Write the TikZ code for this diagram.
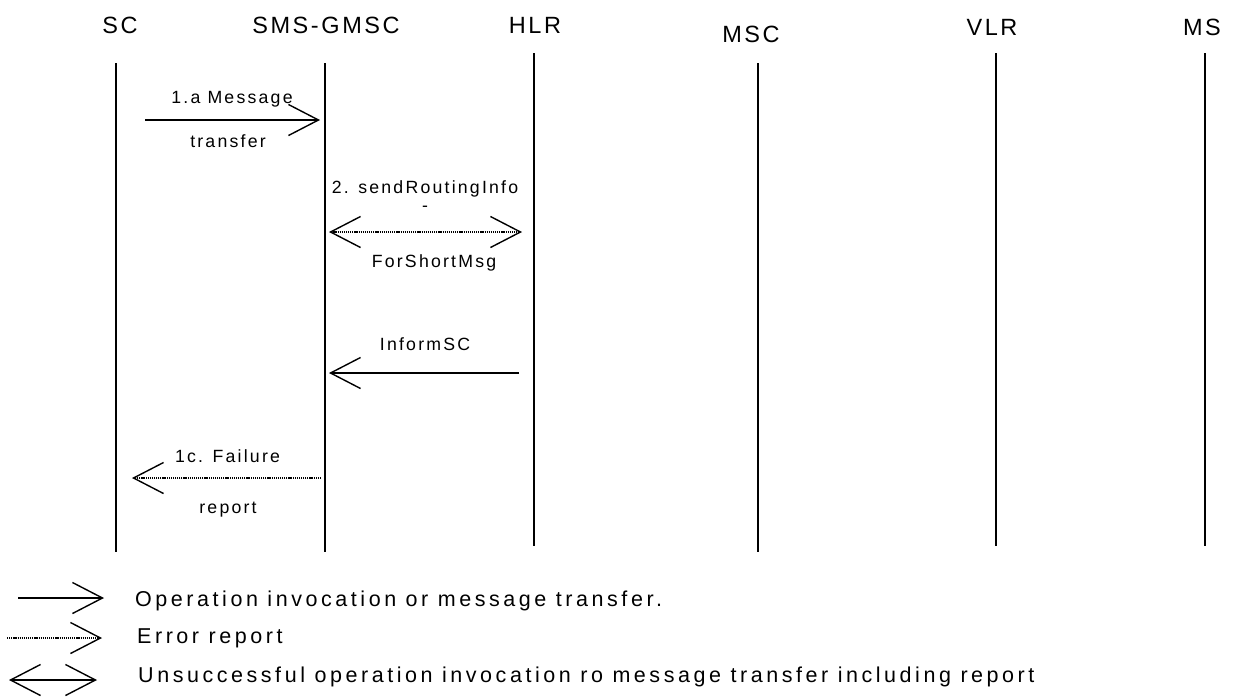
\documentclass[tikz,border=0pt]{standalone}
\usepackage{fontspec}
\setmainfont{Liberation Sans}
\usetikzlibrary{arrows.meta}
\newfontfamily\hdrfont[LetterSpace=11]{Liberation Sans}
\newfontfamily\lblfont[LetterSpace=12.5]{Liberation Sans}
\newfontfamily\legfont[LetterSpace=16.5]{Liberation Sans}
\tikzset{
  x=1pt,y=-1pt,
  lifeline/.style={line width=1.4pt},
  hdr/.style={font=\hdrfont\fontsize{23.5}{25}\selectfont, inner sep=0pt, anchor=base},
  lbl/.style={font=\lblfont\fontsize{17.7}{19}\selectfont, inner sep=0pt, anchor=base},
  leg/.style={font=\legfont\fontsize{21.5}{23}\selectfont, inner sep=0pt, anchor=base west},
  barb/.tip={Straight Barb[length=30pt,width=31pt,line width=1.4pt]},
  msg/.style={line width=1.3pt, -barb},
  err/.style={line width=1.1pt, dash pattern=on 1.2pt off 0.9pt, -barb},
  both/.style={line width=1.1pt, dash pattern=on 1.2pt off 0.9pt, barb-barb},
  bothsolid/.style={line width=1.3pt, barb-barb},
}
\begin{document}
\begin{tikzpicture}
\useasboundingbox (0,0) rectangle (1236,697);
% headers
\node[hdr] (sc) at (120,33) {SC};
\node[hdr] (gmsc) at (326,33) {SMS-GMSC};
\node[hdr] (hlr) at (535,33) {HLR};
\node[hdr] (msc) at (751,42.5) {MSC};
\node[hdr] (vlr) at (992,35.5) {VLR};
\node[hdr] (ms) at (1202,35) {MS};
% lifelines
\coordinate (sct) at (116,63);  \coordinate (scb) at (116,552);
\coordinate (gmt) at (325,63);  \coordinate (gmb) at (325,552);
\coordinate (hlt) at (534,53);  \coordinate (hlb) at (534,546);
\coordinate (mst) at (758,63);  \coordinate (msb) at (758,552);
\coordinate (vlt) at (996,53);  \coordinate (vlb) at (996,546);
\coordinate (mot) at (1205,53); \coordinate (mob) at (1205,546);
\draw[lifeline] (sct) -- (scb);
\draw[lifeline] (gmt) -- (gmb);
\draw[lifeline] (hlt) -- (hlb);
\draw[lifeline] (mst) -- (msb);
\draw[lifeline] (vlt) -- (vlb);
\draw[lifeline] (mot) -- (mob);
% message 1a
\coordinate (m1s) at (145,120); \coordinate (m1e) at (320,120);
\draw[msg] (m1s) -- (m1e);
\node[lbl] (m1a) at (232,103.5) {1.a Message};
\node[lbl] (m1b) at (228,147) {transfer};
% message 2
\coordinate (m2s) at (329,232); \coordinate (m2e) at (522,232);
\draw[both] (m2s) -- (m2e);
\node[lbl] (m2a) at (425,193) {2. sendRoutingInfo};
\node[lbl] (m2b) at (425,211) {-};
\node[lbl] (m2c) at (434,267) {ForShortMsg};
% InformSC
\coordinate (m3s) at (519,373); \coordinate (m3e) at (329,373);
\draw[msg] (m3s) -- (m3e);
\node[lbl] (m3a) at (425,350) {InformSC};
% 1c
\coordinate (m4s) at (321,478); \coordinate (m4e) at (132,478);
\draw[err] (m4s) -- (m4e);
\node[lbl] (m4a) at (227.5,462) {1c. Failure};
\node[lbl] (m4b) at (228,513) {report};
% legend
\coordinate (l1s) at (18,598); \coordinate (l1e) at (104,598);
\draw[msg] (l1s) -- (l1e);
\node[leg] (t1) at (135,606) {Operation invocation or message transfer.};
\coordinate (l2s) at (7,638); \coordinate (l2e) at (102,638);
\draw[err] (l2s) -- (l2e);
\node[leg] (t2) at (137,643) {Error report};
\coordinate (l3s) at (9,680); \coordinate (l3e) at (97,680);
\draw[bothsolid] (l3s) -- (l3e);
\node[leg] (t3) at (138,682.5) {Unsuccessful operation invocation ro message transfer including report};
\end{tikzpicture}
\end{document}
